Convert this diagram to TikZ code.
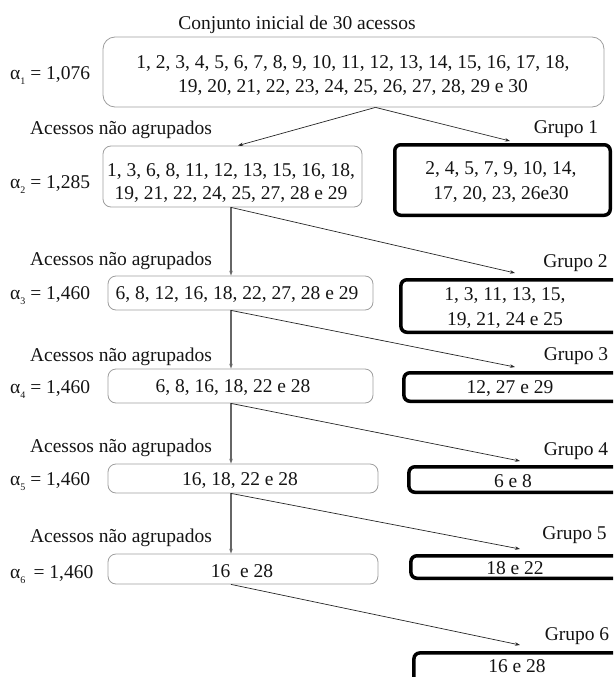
\documentclass[tikz,border=0pt]{standalone}
\usepackage{fontspec}
\setmainfont{Liberation Serif}
\usetikzlibrary{arrows.meta,calc}
\newcommand{\sbs}[1]{\raisebox{-0.28em}{\fontsize{10}{10}\selectfont #1}}
\begin{document}
\begin{tikzpicture}[x=1pt,y=-1pt,
  font=\fontsize{19.5}{24}\selectfont,
  lbox/.style={draw=black!38, line width=0.8pt, rounded corners=8pt, inner sep=0pt},
  gbox/.style={draw=black, line width=3.5pt, rounded corners=6pt, inner sep=0pt},
  txt/.style={inner sep=0pt, align=center, text=black!92},
  conn/.style={draw=black!85, line width=0.7pt, -{Stealth[length=5pt,width=3.5pt]}},
  vconn/.style={draw=black!60, line width=1.3pt, -{Stealth[length=5pt,width=3.5pt]}}]
\useasboundingbox (0,0) rectangle (613,677);
\clip (0,0) rectangle (613,677);
\coordinate (col) at (231,0);
% title
\node[txt] (title) at (297,25) {Conjunto inicial de 30 acessos};
% left boxes
\node[lbox, rounded corners=12pt, minimum width=501pt, minimum height=70pt] (b1) at (353.5,72) {};
\node[lbox, minimum width=259pt, minimum height=61pt] (b2) at (232.5,176.5) {};
\node[lbox, minimum width=265pt, minimum height=34pt] (b3) at (240.5,293) {};
\node[lbox, minimum width=265pt, minimum height=34pt] (b4) at (240.5,386) {};
\node[lbox, minimum width=270pt, minimum height=29pt] (b5) at (243,478.5) {};
\node[lbox, minimum width=270pt, minimum height=30pt] (b6) at (243,569) {};
% texts in left boxes
\node[txt] (t1) at (353,76) {1, 2, 3, 4, 5, 6, 7, 8, 9, 10, 11, 12, 13, 14, 15, 16, 17, 18,\\19, 20, 21, 22, 23, 24, 25, 26, 27, 28, 29 e 30};
\node[txt, font=\fontsize{19.5}{23}\selectfont] (t2) at (231,183.5) {1, 3, 6, 8, 11, 12, 13, 15, 16, 18,\\19, 21, 22, 24, 25, 27, 28 e 29};
\node[txt] (t3) at (237,294.5) {6, 8, 12, 16, 18, 22, 27, 28 e 29};
\node[txt] (t4) at (233,388) {6, 8, 16, 18, 22 e 28};
\node[txt] (t5) at (240,480.5) {16, 18, 22 e 28};
\node[txt] (t6) at (242,571) {16\ \ e 28};
% alpha labels
\node[txt, anchor=west] (a1) at (10,75.5) {α\sbs{1} = 1,076};
\node[txt, anchor=west] (a2) at (10,184.5) {α\sbs{2} = 1,285};
\node[txt, anchor=west] (a3) at (10,295.5) {α\sbs{3} = 1,460};
\node[txt, anchor=west] (a4) at (10,389.5) {α\sbs{4} = 1,460};
\node[txt, anchor=west] (a5) at (10,481.5) {α\sbs{5} = 1,460};
\node[txt, anchor=west] (a6) at (10,574.5) {α\sbs{6} \,= 1,460};
% acessos labels
\node[txt] (n1) at (121,130) {Acessos não agrupados};
\node[txt] (n2) at (121,261) {Acessos não agrupados};
\node[txt] (n3) at (121,357) {Acessos não agrupados};
\node[txt] (n4) at (121,448) {Acessos não agrupados};
\node[txt] (n5) at (121,538) {Acessos não agrupados};
% group boxes
\node[gbox, minimum width=215.5pt, minimum height=70.5pt] (g1) at (502.5,180) {};
\node[gbox, minimum width=224pt, minimum height=52.5pt] (g2) at (512.9,306) {};
\node[gbox, minimum width=221pt, minimum height=28.5pt] (g3) at (514.4,387) {};
\node[gbox, minimum width=216pt, minimum height=25.5pt] (g4) at (516.9,479.5) {};
\node[gbox, minimum width=214pt, minimum height=22.5pt] (g5) at (517.9,567) {};
\node[gbox, minimum width=211pt, minimum height=47pt] (g6) at (519.4,676.4) {};
% group texts
\node[txt, font=\fontsize{19.5}{25}\selectfont] (tg1) at (501,182) {2, 4, 5, 7, 9, 10, 14,\\17, 20, 23, 26e30};
\node[txt, font=\fontsize{19.5}{25}\selectfont] (tg2) at (505,308.5) {1, 3, 11, 13, 15,\\19, 21, 24 e 25};
\node[txt] (tg3) at (510,388.5) {12, 27 e 29};
\node[txt] (tg4) at (513,481) {6 e 8};
\node[txt] (tg5) at (515,568) {18 e 22};
\node[txt] (tg6) at (517,666) {16 e 28};
% group labels
\node[txt] (gl1) at (566,129) {Grupo 1};
\node[txt] (gl2) at (575.5,263) {Grupo 2};
\node[txt] (gl3) at (576,356) {Grupo 3};
\node[txt] (gl4) at (576,451) {Grupo 4};
\node[txt] (gl5) at (574.5,535) {Grupo 5};
\node[txt] (gl6) at (577,636) {Grupo 6};
% arrow end points
\coordinate (e1) at (510,141);
\coordinate (e2) at (515,273);
\coordinate (e3) at (515,367);
\coordinate (e4) at (520,461);
\coordinate (e5) at (520,549);
\coordinate (e6) at (520,645);
% connectors
\draw[conn] ([xshift=22pt]b1.south) -- ([xshift=5.5pt]b2.north);
\draw[conn] ([xshift=22pt]b1.south) -- (e1);
\draw[vconn] (b2.south -| col) -- (b3.north -| col);
\draw[conn] (b2.south -| col) -- (e2);
\draw[vconn] (b3.south -| col) -- (b4.north -| col);
\draw[conn] (b3.south -| col) -- (e3);
\draw[vconn] (b4.south -| col) -- (b5.north -| col);
\draw[conn] (b4.south -| col) -- (e4);
\draw[vconn] (b5.south -| col) -- (b6.north -| col);
\draw[conn] (b5.south -| col) -- (e5);
\draw[conn] (b6.south -| col) -- (e6);
\end{tikzpicture}
\end{document}
